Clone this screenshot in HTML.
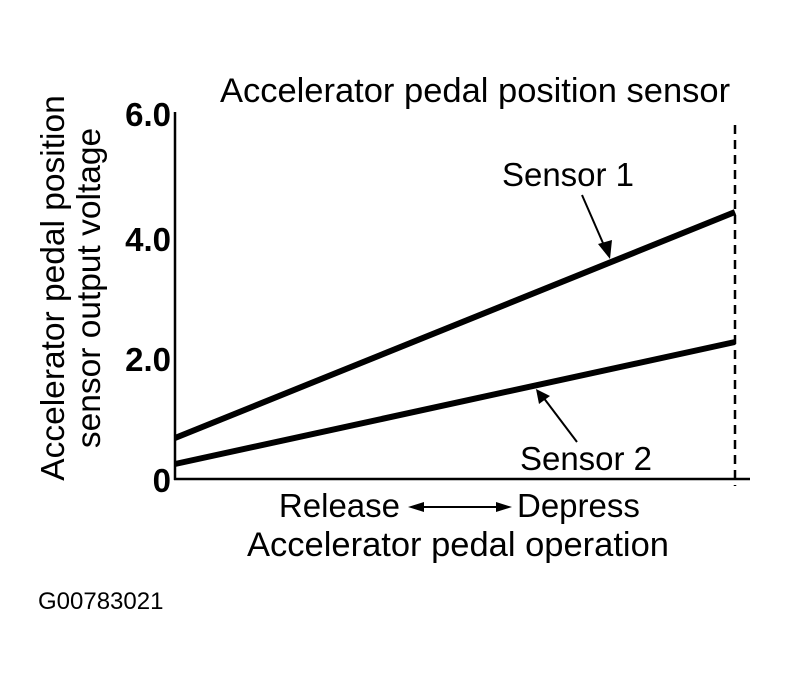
<!DOCTYPE html>
<html><head><style>
body{margin:0;background:#fff;}
svg text{font-family:"Liberation Sans",sans-serif;fill:#000;}
</style></head><body>
<svg width="790" height="680" viewBox="0 0 790 680" xmlns="http://www.w3.org/2000/svg">
<rect width="790" height="680" fill="#fff"/>
<text x="475" y="102" font-size="34.5" text-anchor="middle">Accelerator pedal position sensor</text>
<g font-size="33" font-weight="bold" text-anchor="end">
<text x="171" y="126">6.0</text>
<text x="171" y="251">4.0</text>
<text x="171" y="371">2.0</text>
<text x="171" y="492">0</text>
</g>
<text transform="translate(64,288) rotate(-90)" font-size="33.5" text-anchor="middle">Accelerator pedal position</text>
<text transform="translate(100,288) rotate(-90)" font-size="33.5" text-anchor="middle">sensor output voltage</text>
<line x1="175" y1="112" x2="175" y2="480" stroke="#000" stroke-width="2.5"/>
<line x1="174" y1="479" x2="750" y2="479" stroke="#000" stroke-width="2.5"/>
<line x1="735" y1="125" x2="735" y2="486" stroke="#000" stroke-width="2.5" stroke-dasharray="9,6"/>
<line x1="175" y1="438" x2="735" y2="212" stroke="#000" stroke-width="6"/>
<line x1="175" y1="464" x2="735" y2="342" stroke="#000" stroke-width="6"/>
<line x1="582" y1="195" x2="606" y2="250" stroke="#000" stroke-width="2"/>
<polygon points="610,259 598,244 612,240" fill="#000"/>
<line x1="577" y1="442" x2="543" y2="397" stroke="#000" stroke-width="2"/>
<polygon points="536,389 550,396 539,404" fill="#000"/>
<text x="568" y="186" font-size="33" text-anchor="middle">Sensor 1</text>
<text x="586" y="470" font-size="33" text-anchor="middle">Sensor 2</text>
<text x="400" y="517" font-size="33" text-anchor="end">Release</text>
<line x1="420" y1="507" x2="498" y2="507" stroke="#000" stroke-width="2"/>
<polygon points="408,507 424,502 424,512" fill="#000"/>
<polygon points="512,507 496,502 496,512" fill="#000"/>
<text x="517" y="517" font-size="33">Depress</text>
<text x="458" y="556" font-size="34.5" text-anchor="middle">Accelerator pedal operation</text>
<text x="38" y="609" font-size="24">G00783021</text>
</svg>
</body></html>
